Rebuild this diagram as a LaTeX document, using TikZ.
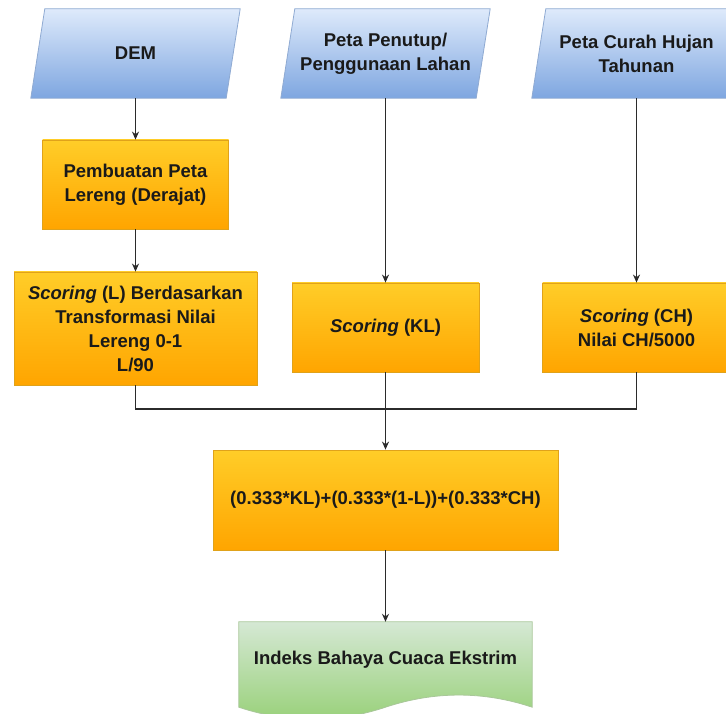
\documentclass[tikz,border=0pt]{standalone}
\usepackage{fontspec}
\setmainfont{Liberation Sans}
\usetikzlibrary{arrows.meta,backgrounds,calc}

\definecolor{blTop}{HTML}{DEEAFB}
\definecolor{blBot}{HTML}{7EA6E0}
\definecolor{blStroke}{HTML}{8FAAD2}
\definecolor{orTop}{HTML}{FFCD28}
\definecolor{orBot}{HTML}{FFA500}
\definecolor{orStroke}{HTML}{E0A21A}
\definecolor{grTop}{HTML}{D5E8D4}
\definecolor{grBot}{HTML}{97D077}
\definecolor{grStroke}{HTML}{A9C79A}
\definecolor{txt}{HTML}{1A1A1A}
\definecolor{wire}{HTML}{2B2B2B}

\begin{document}
\begin{tikzpicture}[x=1pt,y=-1pt,
  box/.style={rectangle, inner sep=0pt, align=center, text=txt,
    font=\fontsize{18.5}{24}\selectfont\bfseries},
  inputbox/.style={box, minimum width=195pt, minimum height=89pt},
  procbox/.style={box, draw=orStroke, line width=0.8pt,
    top color=orTop, bottom color=orBot},
  slanted/.style={draw=blStroke, line width=0.8pt,
    top color=blTop, bottom color=blBot},
  docshape/.style={draw=grStroke, line width=0.8pt,
    top color=grTop, bottom color=grBot},
  conn/.style={draw=wire, line width=1.3pt},
  arr/.style={conn, -{Stealth[length=8pt,width=7pt]}}]

\path[use as bounding box] (0,0) rectangle (726,714);

% input data (parallelograms)
\node[inputbox] (dem) at (135.5,53.5) {DEM};
\node[inputbox] (lu)  at (385.5,53.5) {Peta Penutup/\\Penggunaan Lahan};
\node[inputbox] (ch)  at (636.5,53.5) {Peta Curah Hujan\\Tahunan};

% processing steps
\node[procbox, minimum width=186pt, minimum height=89pt] (slope) at (135.5,184.5)
  {Pembuatan Peta\\Lereng (Derajat)};
\node[procbox, minimum width=243pt, minimum height=113pt] (sl) at (135.5,328.5)
  {\textit{Scoring} (L) Berdasarkan\\Transformasi Nilai\\Lereng 0-1\\L/90};
\node[procbox, minimum width=187pt, minimum height=89pt] (kl) at (385.5,327.5)
  {\textit{Scoring} (KL)};
\node[procbox, minimum width=188pt, minimum height=89pt] (sch) at (636.5,327.5)
  {\textit{Scoring} (CH)\\Nilai CH/5000};
\node[procbox, minimum width=345pt, minimum height=100pt] (f) at (385.5,500)
  {(0.333*KL)+(0.333*(1-L))+(0.333*CH)};

% output document
\node[box, minimum width=293pt, minimum height=76pt] (idx) at (385.5,660)
  {Indeks Bahaya Cuaca Ekstrim};

\begin{scope}[on background layer]
  \foreach \n in {dem,lu,ch}
    \path[slanted] ([xshift=-7pt]\n.south west) -- ([xshift=7pt]\n.north west)
      -- ([xshift=7pt]\n.north east) -- ([xshift=-7pt]\n.south east) -- cycle;
  \path[docshape] (idx.north west) -- (idx.north east) -- ($(idx.south east)+(0,9)$)
    .. controls ($(idx.south east)+(-48.7,-7.2)$) and ($(idx.south)+(48.7,-7.2)$) .. ($(idx.south)+(0,9)$)
    .. controls ($(idx.south)+(-48.7,25.2)$) and ($(idx.south west)+(48.7,25.2)$) .. ($(idx.south west)+(0,9)$)
    -- cycle;
\end{scope}

% connectors
\coordinate (j) at (385.5,409);
\draw[arr] (dem.south) -- (slope.north);
\draw[arr] (slope.south) -- (sl.north);
\draw[arr] (lu.south) -- (kl.north);
\draw[arr] (ch.south) -- (sch.north);
\draw[conn] (sl.south) |- (j) -| (sch.south);
\draw[arr] (kl.south) -- (f.north);
\draw[arr] (f.south) -- (idx.north);
\end{tikzpicture}
\end{document}
